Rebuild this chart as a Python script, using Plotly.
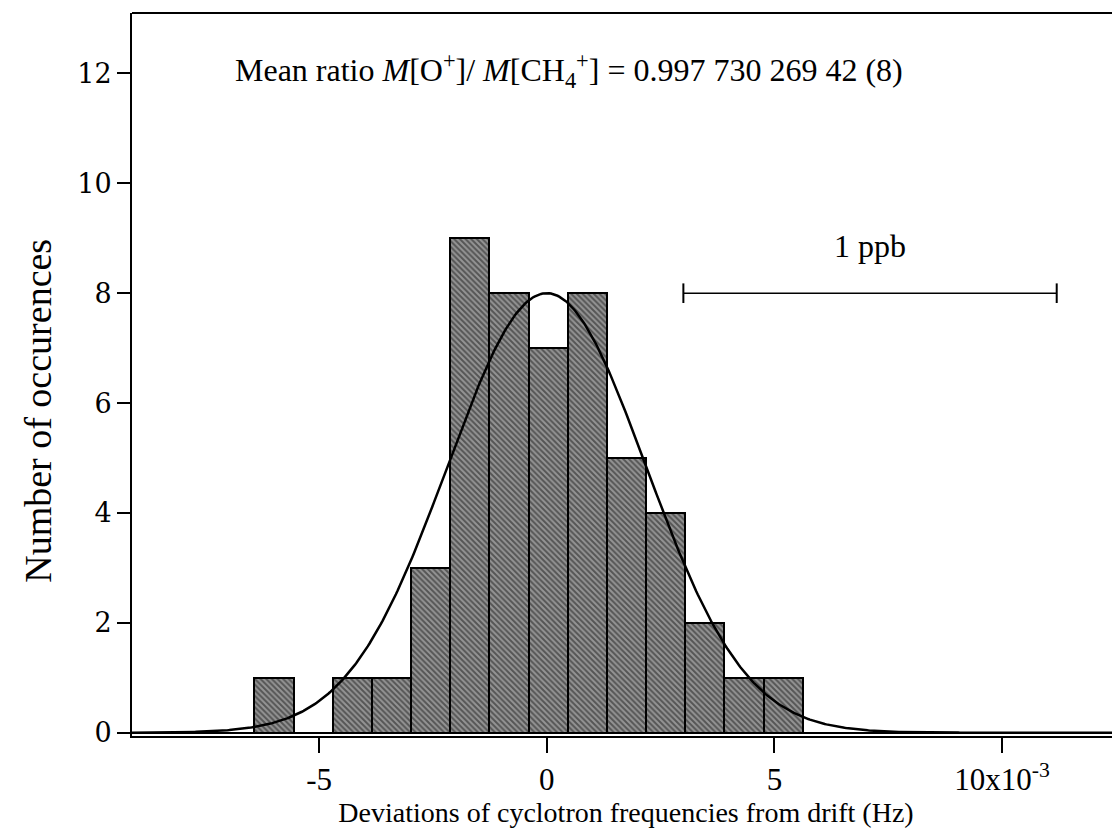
import numpy as np
import plotly.graph_objects as go

# Histogram data (bin centers in units of 1e-3 Hz)
bin_centers = [-5.99, -5.13, -4.27, -3.41, -2.55, -1.69, -0.83, 0.03, 0.89, 1.75, 2.61, 3.47, 4.33, 5.19]
counts = [1, 0, 1, 1, 3, 9, 8, 7, 8, 5, 4, 2, 1, 1]
bin_width = 0.86

# Gaussian fit parameters
gauss_amp = 8.0
gauss_mu = 0.0
gauss_sigma = 2.18

# 1 ppb scale bar
ppb_x = [3.0, 11.2]
ppb_y = [8.0, 8.0]

x_tickvals = [-5, 0, 5, 10]
x_ticktext = ["-5", "0", "5", "10x10<sup>-3</sup>"]
y_tickvals = [0, 2, 4, 6, 8, 10, 12]

x_range = [-9.11, 12.59]
y_range = [-0.06, 13.1]

xc = np.linspace(x_range[0], x_range[1], 600)
yc = gauss_amp * np.exp(-(xc - gauss_mu) ** 2 / (2 * gauss_sigma ** 2))

fig = go.Figure()
fig.add_trace(go.Bar(
    x=bin_centers, y=counts, width=bin_width,
    marker=dict(color="#7a7a7a", line=dict(color="black", width=2),
                pattern=dict(shape="\\", fgcolor="#151515", bgcolor="#949494", size=4, solidity=0.5)),
    showlegend=False,
))
fig.add_trace(go.Scatter(x=xc, y=yc, mode="lines", line=dict(color="black", width=2.5), showlegend=False))
fig.add_trace(go.Scatter(x=ppb_x, y=ppb_y, mode="lines+markers",
                         line=dict(color="black", width=1.5),
                         marker=dict(symbol="line-ns-open", size=14, color="black", line=dict(width=2, color="black")),
                         showlegend=False))

serif = "Liberation Serif, Times New Roman, serif"
wide_serif = "DejaVu Serif, serif"
fig.add_annotation(x=(ppb_x[0] + ppb_x[1]) / 2, y=8.85, text="1 ppb", showarrow=False,
                   font=dict(family=serif, size=32, color="black"), xanchor="center", yanchor="middle")
fig.add_annotation(x=-6.9, y=12.05,
                   text="Mean ratio <i>M</i>[O<sup>+</sup>]/ <i>M</i>[CH<sub>4</sub><sup>+</sup>] = 0.997 730 269 42 (8)",
                   showarrow=False, font=dict(family=serif, size=32, color="black"),
                   xanchor="left", yanchor="middle")
# y-axis title (placed as annotation to match the reference's offset)
fig.add_annotation(xref="paper", yref="paper", x=-0.096, y=0.45, text="Number of occurences",
                   textangle=-90, showarrow=False, xanchor="center", yanchor="middle",
                   font=dict(family=serif, size=38, color="black"))

fig.update_layout(
    width=1112, height=825,
    margin=dict(l=124, r=0, t=5, b=97),
    paper_bgcolor="white", plot_bgcolor="white",
    bargap=0,
    font=dict(family=serif, color="black"),
    xaxis=dict(range=x_range, tickvals=x_tickvals, ticktext=x_ticktext,
               ticks="outside", ticklen=15, tickwidth=1.5, tickcolor="black",
               showline=True, linecolor="black", linewidth=2, mirror=False,
               showgrid=False, zeroline=False,
               tickfont=dict(size=31, family=serif),
               title=dict(text="Deviations of cyclotron frequencies from drift (Hz)",
                          font=dict(size=28, family=serif), standoff=2)),
    yaxis=dict(range=y_range, tickvals=y_tickvals,
               ticks="outside", ticklen=13, tickwidth=1.5, tickcolor="black",
               showline=True, linecolor="black", linewidth=2,
               showgrid=False, zeroline=True, zerolinecolor="black", zerolinewidth=1.5,
               tickfont=dict(size=27, family=wide_serif)),
)
# top border line
fig.add_shape(type="line", xref="paper", yref="paper", x0=0, x1=1, y0=1, y1=1,
              line=dict(color="black", width=2))

fig.write_html("out.html")
